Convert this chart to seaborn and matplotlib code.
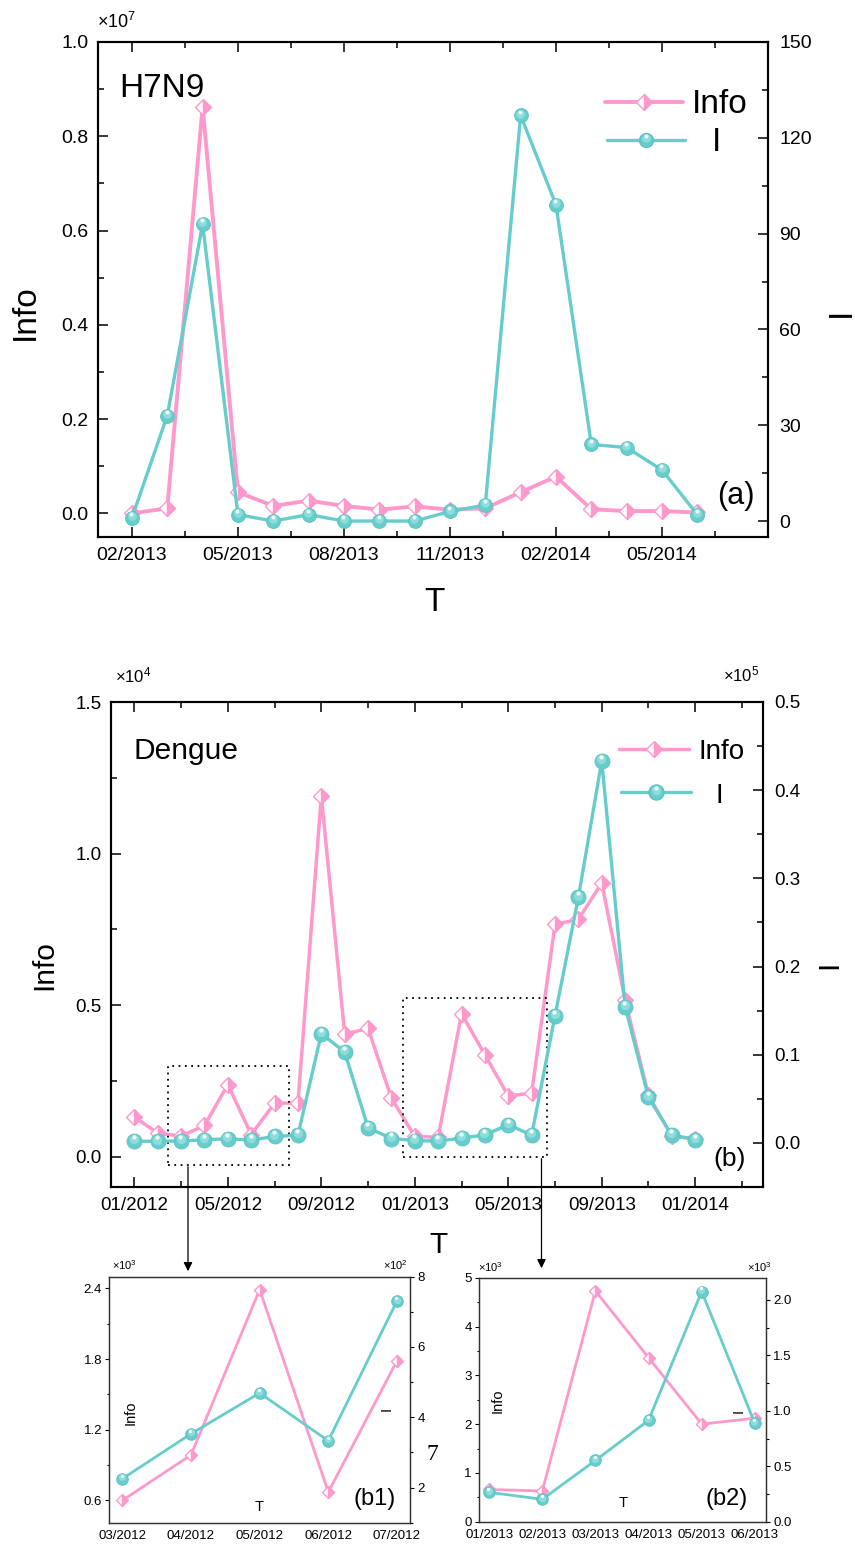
import matplotlib
matplotlib.use("Agg")
import matplotlib.pyplot as plt
import numpy as np
import pandas as pd
import seaborn as sns
from matplotlib.patches import Rectangle
from matplotlib.lines import Line2D
from matplotlib.transforms import offset_copy
from matplotlib.ticker import FixedLocator, MultipleLocator, FormatStrFormatter

# ---------------- data ----------------
# Panel (a): H7N9 -- Info in units of 1e7, I in cases
a_months = ["02/2013", "03/2013", "04/2013", "05/2013", "06/2013", "07/2013",
            "08/2013", "09/2013", "10/2013", "11/2013", "12/2013", "01/2014",
            "02/2014", "03/2014", "04/2014", "05/2014", "06/2014"]
a_info = [0.000, 0.011, 0.863, 0.045, 0.016, 0.027, 0.016, 0.008, 0.015,
          0.008, 0.011, 0.045, 0.078, 0.009, 0.005, 0.005, 0.002]
a_I = [1, 33, 93, 2, 0, 2, 0, 0, 0, 3, 5, 127, 99, 24, 23, 16, 2]

# Panel (b): Dengue -- Info in units of 1e4, I in units of 1e5
b_months = ["01/2012", "02/2012", "03/2012", "04/2012", "05/2012", "06/2012",
            "07/2012", "08/2012", "09/2012", "10/2012", "11/2012", "12/2012",
            "01/2013", "02/2013", "03/2013", "04/2013", "05/2013", "06/2013",
            "07/2013", "08/2013", "09/2013", "10/2013", "11/2013", "12/2013",
            "01/2014"]
b_info = [0.130, 0.078, 0.068, 0.103, 0.238, 0.073, 0.177, 0.177, 1.190,
          0.404, 0.423, 0.193, 0.067, 0.064, 0.472, 0.336, 0.200, 0.210,
          0.766, 0.783, 0.903, 0.517, 0.203, 0.067, 0.060]
b_I = [0.0020, 0.0018, 0.0022, 0.0036, 0.0047, 0.0033, 0.0073, 0.0088,
       0.1240, 0.1030, 0.0172, 0.0050, 0.0027, 0.0020, 0.0055, 0.0091,
       0.0206, 0.0089, 0.1443, 0.2785, 0.4332, 0.1546, 0.0515, 0.0088, 0.0038]

# Inset (b1): Info x1e3, I x1e2
b1_months = ["03/2012", "04/2012", "05/2012", "06/2012", "07/2012"]
b1_info = [0.60, 0.985, 2.39, 0.67, 1.785]
b1_I = [2.25, 3.53, 4.69, 3.33, 7.31]

# Inset (b2): Info x1e3, I x1e3
b2_months = ["01/2013", "02/2013", "03/2013", "04/2013", "05/2013", "06/2013"]
b2_info = [0.66, 0.63, 4.73, 3.36, 2.00, 2.12]
b2_I = [0.265, 0.202, 0.552, 0.914, 2.075, 0.887]

PINK = "#FF99CC"
TEAL = "#66CCCC"

# ---------------- setup ----------------
sns.set_style("white")
plt.rcParams["font.family"] = ["Liberation Sans", "DejaVu Sans"]
plt.rcParams["mathtext.fontset"] = "custom"
plt.rcParams["mathtext.rm"] = "Liberation Sans"
plt.rcParams["text.color"] = "black"
plt.rcParams["axes.labelcolor"] = "black"
plt.rcParams["xtick.color"] = "black"
plt.rcParams["ytick.color"] = "black"

W, H = 855, 1546
fig = plt.figure(figsize=(W / 100, H / 100), dpi=100)


def axes_px(l, t, r, b):
    return fig.add_axes([l / W, 1 - b / H, (r - l) / W, (b - t) / H])


def ftxt(x, y, s, **kw):
    kw.setdefault("color", "black")
    return fig.text(x / W, 1 - y / H, s, **kw)


def info_line(ax, x, y, lw, ms):
    df = pd.DataFrame({"t": x, "v": y})
    sns.lineplot(data=df, x="t", y="v", ax=ax, color=PINK, lw=lw, marker="D",
                 markersize=ms, fillstyle="right", markerfacecolor=PINK,
                 markerfacecoloralt="white", markeredgecolor=PINK,
                 markeredgewidth=1.0, legend=False, zorder=3)


def ball_line(ax, x, y, lw, ms):
    df = pd.DataFrame({"t": x, "v": y})
    sns.lineplot(data=df, x="t", y="v", ax=ax, color=TEAL, lw=lw, marker="o",
                 markersize=ms, markerfacecolor=TEAL, markeredgecolor="#5CC2C2",
                 markeredgewidth=0.6, legend=False, zorder=3)
    tr1 = offset_copy(ax.transData, fig=fig, x=-0.3, y=ms * 0.12, units="points")
    ax.plot(x, y, ls="none", marker="o", markersize=ms * 0.62,
            markerfacecolor="#8EDDDB", markeredgecolor="none", transform=tr1, zorder=4)
    tr2 = offset_copy(ax.transData, fig=fig, x=-0.5, y=ms * 0.27, units="points")
    ax.plot(x, y, ls="none", marker="o", markersize=ms * 0.28,
            markerfacecolor="#F4FFFF", markeredgecolor="none", transform=tr2, zorder=5)


def style_main(ax, ax2, size, majl, minl):
    for a in (ax, ax2):
        for sp in a.spines.values():
            sp.set_linewidth(1.5)
            sp.set_color("black")
        a.set_xlabel("")
        a.set_ylabel("")
    ax.tick_params(axis="both", which="both", direction="in", width=1.1,
                   colors="black", labelsize=size, pad=7, top=True, bottom=True)
    ax.tick_params(which="major", length=majl)
    ax.tick_params(which="minor", length=minl)
    ax2.tick_params(axis="y", which="both", direction="in", width=1.1,
                    colors="black", labelsize=size, pad=8)
    ax2.tick_params(which="major", length=majl)
    ax2.tick_params(which="minor", length=minl)


def style_inset(ax, ax2):
    for a in (ax, ax2):
        for sp in a.spines.values():
            sp.set_linewidth(0.9)
            sp.set_color("#333333")
        a.set_xlabel("")
        a.set_ylabel("")
    for a in (ax, ax2):
        a.tick_params(axis="both", which="both", direction="out", width=0.8,
                      colors="black", labelsize=9.5, pad=2)
        a.tick_params(which="major", length=3.2)
        a.tick_params(which="minor", length=1.8)


def legend_entry(x0, x1, y, kind, lw, ms):
    xs = [x0 / W, (x0 + x1) / 2 / W, x1 / W]
    ys = [1 - y / H] * 3
    if kind == "info":
        ln = Line2D(xs, ys, color=PINK, lw=lw, marker="D", markersize=ms,
                    fillstyle="right", markerfacecolor=PINK, markerfacecoloralt="white",
                    markeredgecolor=PINK, markeredgewidth=1.0, markevery=[1],
                    transform=fig.transFigure)
        fig.add_artist(ln)
    else:
        ln = Line2D(xs, ys, color=TEAL, lw=lw, marker="o", markersize=ms,
                    markerfacecolor=TEAL, markeredgecolor="#5CC2C2", markevery=[1],
                    transform=fig.transFigure)
        fig.add_artist(ln)
        xm = (x0 + x1) / 2
        fig.add_artist(Line2D([xm / W], [1 - (y - ms * 0.12 * 1.39) / H], ls="none",
                              marker="o", markersize=ms * 0.62, markerfacecolor="#8EDDDB",
                              markeredgecolor="none", transform=fig.transFigure))
        fig.add_artist(Line2D([xm / W], [1 - (y - ms * 0.27 * 1.39) / H], ls="none",
                              marker="o", markersize=ms * 0.28, markerfacecolor="#F4FFFF",
                              markeredgecolor="none", transform=fig.transFigure))


# ---------------- panel (a) ----------------
ax_a = axes_px(98, 42, 768, 537)
xa = np.arange(len(a_months))
info_line(ax_a, xa, a_info, 2.8, 8)
ax_a2 = ax_a.twinx()
ball_line(ax_a2, xa, a_I, 2.4, 10)

ax_a.set_xlim(-0.96, 18.0)
ax_a.set_ylim(-0.05, 1.0)
ax_a2.set_ylim(-5, 150)
ax_a.set_xticks(xa[::3])
ax_a.set_xticklabels(a_months[::3])
ax_a.xaxis.set_minor_locator(FixedLocator(np.arange(1.5, 18.0, 3)))
ax_a.yaxis.set_major_locator(MultipleLocator(0.2))
ax_a.yaxis.set_minor_locator(MultipleLocator(0.1))
ax_a.yaxis.set_major_formatter(FormatStrFormatter("%.1f"))
ax_a2.yaxis.set_major_locator(MultipleLocator(30))
ax_a2.yaxis.set_minor_locator(MultipleLocator(15))
style_main(ax_a, ax_a2, 14, 7.5, 4.5)

ftxt(97, 28, r"$\mathregular{\times10^{7}}$", fontsize=13, ha="left", va="baseline")
ftxt(119, 97, "H7N9", fontsize=24, ha="left", va="baseline")
ftxt(717, 504, "(a)", fontsize=22, ha="left", va="baseline")
ftxt(25, 312, "Info", fontsize=24, rotation=90, ha="center", va="center")
ftxt(841, 312, "I", fontsize=24, rotation=90, ha="center", va="center")
ftxt(434, 602, "T", fontsize=24, ha="center", va="center")
legend_entry(605, 683, 101.7, "info", 2.8, 8)
legend_entry(607, 685, 140, "I", 2.4, 10)
ftxt(692, 113, "Info", fontsize=24, ha="left", va="baseline")
ftxt(716, 151, "I", fontsize=24, ha="center", va="baseline")

# ---------------- panel (b) ----------------
ax_b = axes_px(111, 702, 763, 1187)
xb = np.arange(len(b_months))
info_line(ax_b, xb, b_info, 2.5, 8)
ax_b2 = ax_b.twinx()
ball_line(ax_b2, xb, b_I, 2.4, 10.8)

ax_b.set_xlim(-1.0, 26.9)
ax_b.set_ylim(-0.1, 1.5)
ax_b2.set_ylim(-0.05, 0.5)
ax_b.set_xticks(xb[::4])
ax_b.set_xticklabels(b_months[::4])
ax_b.xaxis.set_minor_locator(FixedLocator(np.arange(2, 27, 4)))
ax_b.yaxis.set_major_locator(MultipleLocator(0.5))
ax_b.yaxis.set_minor_locator(MultipleLocator(0.25))
ax_b.yaxis.set_major_formatter(FormatStrFormatter("%.1f"))
ax_b2.yaxis.set_major_locator(MultipleLocator(0.1))
ax_b2.yaxis.set_minor_locator(MultipleLocator(0.05))
ax_b2.yaxis.set_major_formatter(FormatStrFormatter("%.1f"))
style_main(ax_b, ax_b2, 13.5, 7, 4)

# dotted zoom boxes
for (x0, x1, y0, y1) in [(1.44, 6.62, -0.026, 0.30), (11.5, 17.66, 0.0, 0.522)]:
    ax_b.add_patch(Rectangle((x0, y0), x1 - x0, y1 - y0, fill=False, ec="black",
                             lw=1.3, ls=(0, (1, 2.5)), zorder=6, clip_on=False))

ftxt(115, 682, r"$\mathregular{\times10^{4}}$", fontsize=12, ha="left", va="baseline")
ftxt(723, 681, r"$\mathregular{\times10^{5}}$", fontsize=12, ha="left", va="baseline")
ftxt(133, 759, "Dengue", fontsize=21.5, ha="left", va="baseline")
ftxt(713, 1166, "(b)", fontsize=19, ha="left", va="baseline")
ftxt(44, 965, "Info", fontsize=21.5, rotation=90, ha="center", va="center")
ftxt(829, 965, "I", fontsize=21.5, rotation=90, ha="center", va="center")
ftxt(438, 1245, "T", fontsize=21.5, ha="center", va="center")
legend_entry(619, 689, 749, "info", 2.5, 8)
legend_entry(621, 691, 791.7, "I", 2.4, 10.8)
ftxt(698, 759, "Info", fontsize=20, ha="left", va="baseline")
ftxt(719, 802.7, "I", fontsize=20, ha="center", va="baseline")

# arrows to the insets
for (xx, y0, y1) in [(188, 1164, 1274), (541.5, 1156, 1271)]:
    fig.add_artist(matplotlib.patches.FancyArrowPatch(
        (xx / W, 1 - y0 / H), (xx / W, 1 - y1 / H), transform=fig.transFigure,
        arrowstyle="-|>", mutation_scale=13, color="black", lw=0.9))

# ---------------- inset (b1) ----------------
ax_c = axes_px(109.3, 1276.7, 410, 1522.7)
xc = np.arange(len(b1_months))
info_line(ax_c, xc, b1_info, 2.0, 6)
ax_c2 = ax_c.twinx()
ball_line(ax_c2, xc, b1_I, 2.0, 8.4)
ax_c.set_xlim(-0.19, 4.19)
ax_c.set_ylim(0.41, 2.5)
ax_c2.set_ylim(1, 8)
ax_c.set_xticks(xc)
ax_c.set_xticklabels(b1_months)
ax_c.xaxis.set_minor_locator(MultipleLocator(0.5))
ax_c.yaxis.set_major_locator(MultipleLocator(0.6))
ax_c.yaxis.set_minor_locator(MultipleLocator(0.3))
ax_c.yaxis.set_major_formatter(FormatStrFormatter("%.1f"))
ax_c2.yaxis.set_major_locator(MultipleLocator(2))
ax_c2.yaxis.set_minor_locator(MultipleLocator(1))
style_inset(ax_c, ax_c2)
ftxt(112, 1270, r"$\mathregular{\times10^{3}}$", fontsize=8, ha="left", va="baseline")
ftxt(383, 1270, r"$\mathregular{\times10^{2}}$", fontsize=8, ha="left", va="baseline")
ftxt(131, 1413, "Info", fontsize=10.5, rotation=90, ha="center", va="center")
ftxt(387, 1409, "I", fontsize=10.5, rotation=90, ha="center", va="center")
ftxt(259, 1507, "T", fontsize=10.5, ha="center", va="center")
ftxt(353, 1505, "(b1)", fontsize=17, ha="left", va="baseline")
ftxt(432, 1455, "7", fontsize=17, ha="center", va="center", family="Liberation Serif")

# ---------------- inset (b2) ----------------
ax_d = axes_px(479, 1277.7, 766, 1521.7)
xd = np.arange(len(b2_months))
info_line(ax_d, xd, b2_info, 2.0, 6)
ax_d2 = ax_d.twinx()
ball_line(ax_d2, xd, b2_I, 2.0, 8.4)
ax_d.set_xlim(-0.19, 5.21)
ax_d.set_ylim(0, 5)
ax_d2.set_ylim(0, 2.2)
ax_d.set_xticks(xd)
ax_d.set_xticklabels(b2_months)
ax_d.xaxis.set_minor_locator(MultipleLocator(0.5))
ax_d.yaxis.set_major_locator(MultipleLocator(1))
ax_d.yaxis.set_minor_locator(MultipleLocator(0.5))
ax_d2.yaxis.set_major_locator(MultipleLocator(0.5))
ax_d2.yaxis.set_minor_locator(MultipleLocator(0.25))
ax_d2.yaxis.set_major_formatter(FormatStrFormatter("%.1f"))
style_inset(ax_d, ax_d2)
ftxt(478, 1272, r"$\mathregular{\times10^{3}}$", fontsize=8, ha="left", va="baseline")
ftxt(747, 1272, r"$\mathregular{\times10^{3}}$", fontsize=8, ha="left", va="baseline")
ftxt(498, 1401, "Info", fontsize=10.5, rotation=90, ha="center", va="center")
ftxt(739, 1411, "I", fontsize=10.5, rotation=90, ha="center", va="center")
ftxt(623, 1503, "T", fontsize=10.5, ha="center", va="center")
ftxt(705, 1504.5, "(b2)", fontsize=17, ha="left", va="baseline")

fig.savefig("out.png", dpi=100)
